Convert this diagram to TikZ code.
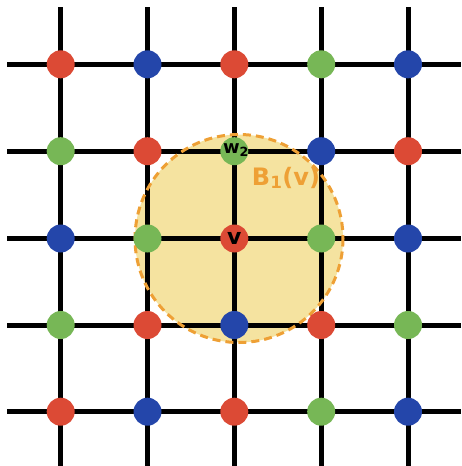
\documentclass[tikz,border=0pt]{standalone}
\usepackage{fontspec}
\setmainfont{DejaVu Sans}
\definecolor{dred}{HTML}{DC4A35}
\definecolor{dblue}{HTML}{2446AA}
\definecolor{dgreen}{HTML}{77B756}
\definecolor{ballfill}{HTML}{F5E3A0}
\definecolor{ballline}{HTML}{EEA035}
\tikzset{
  gridline/.style={line width=5pt, black},
  dot/.style={circle, minimum size=28pt, inner sep=0pt, draw=none},
  rdot/.style={dot, fill=dred},
  bdot/.style={dot, fill=dblue},
  gdot/.style={dot, fill=dgreen},
  lbl/.style={font=\bfseries\fontsize{22}{22}\selectfont, inner sep=0pt},
}
\begin{document}
\begin{tikzpicture}[x=1pt,y=-1pt]
\useasboundingbox (0,0) rectangle (461,466);
% ball fill
\fill[ballfill] (239,238.5) circle (104);
% grid
\foreach \x in {60.7,147.5,234.3,321.2,408} \draw[gridline] (\x,7) -- (\x,466);
\foreach \y in {64.3,151.2,238.5,325,411.7} \draw[gridline] (7,\y) -- (461,\y);
% dashed boundary
\draw[ballline, line width=3pt, dash pattern=on 8pt off 5pt] (239,238.5) circle (104);
% dots
\node[rdot] (n11) at (60.7,64.3) {};
\node[bdot] (n12) at (147.5,64.3) {};
\node[rdot] (n13) at (234.3,64.3) {};
\node[gdot] (n14) at (321.2,64.3) {};
\node[bdot] (n15) at (408,64.3) {};
\node[gdot] (n21) at (60.7,151.2) {};
\node[rdot] (n22) at (147.5,151.2) {};
\node[gdot] (w2) at (234.3,151.2) {};
\node[bdot] (n24) at (321.2,151.2) {};
\node[rdot] (n25) at (408,151.2) {};
\node[bdot] (n31) at (60.7,238.5) {};
\node[gdot] (n32) at (147.5,238.5) {};
\node[rdot] (v) at (234.3,238.5) {};
\node[gdot] (n34) at (321.2,238.5) {};
\node[bdot] (n35) at (408,238.5) {};
\node[gdot] (n41) at (60.7,325) {};
\node[rdot] (n42) at (147.5,325) {};
\node[bdot] (n43) at (234.3,325) {};
\node[rdot] (n44) at (321.2,325) {};
\node[gdot] (n45) at (408,325) {};
\node[rdot] (n51) at (60.7,411.7) {};
\node[bdot] (n52) at (147.5,411.7) {};
\node[rdot] (n53) at (234.3,411.7) {};
\node[gdot] (n54) at (321.2,411.7) {};
\node[bdot] (n55) at (408,411.7) {};
% labels
\node[lbl] (vl) at (234.3,238) {v};
\node[lbl, font=\bfseries\fontsize{18}{18}\selectfont] (w2l) at (236,150) {w$_{\mathbf{2}}$};
\node[lbl, text=ballline, font=\bfseries\fontsize{24}{24}\selectfont] (bl) at (286,178) {B$_{\mathbf{1}}$(v)};
\end{tikzpicture}
\end{document}
